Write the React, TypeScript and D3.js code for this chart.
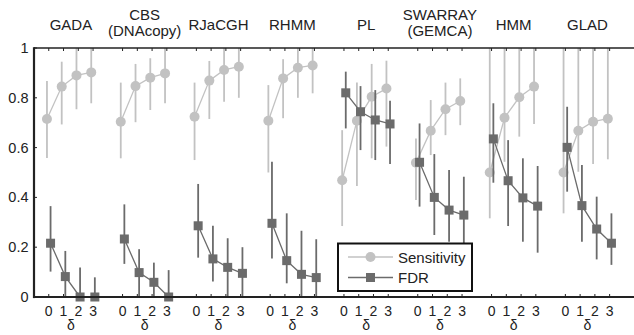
import React from "react";
import * as d3 from "d3";

const methods = ["GADA", "CBS|(DNAcopy)", "RJaCGH", "RHMM", "PL", "SWARRAY|(GEMCA)", "HMM", "GLAD"];
const deltas = [0, 1, 2, 3];
const yTicks = [0, 0.2, 0.4, 0.6, 0.8, 1];
const yTickLabels = ["0", "0.2", "0.4", "0.6", "0.8", "1"];

const sensMean = [
  [0.715, 0.845, 0.89, 0.902],
  [0.704, 0.847, 0.881, 0.898],
  [0.724, 0.869, 0.912, 0.925],
  [0.708, 0.878, 0.921, 0.93],
  [0.469, 0.708, 0.804, 0.837],
  [0.539, 0.668, 0.754, 0.787],
  [0.5, 0.72, 0.802, 0.845],
  [0.5, 0.668, 0.704, 0.716],
];
const sensLow = [
  [0.558, 0.693, 0.754, 0.778],
  [0.557, 0.702, 0.751, 0.778],
  [0.55, 0.715, 0.784, 0.8],
  [0.5, 0.718, 0.8, 0.818],
  [0.285, 0.446, 0.557, 0.604],
  [0.39, 0.57, 0.65, 0.69],
  [0.316, 0.543, 0.644, 0.695],
  [0.336, 0.503, 0.534, 0.553],
];
const sensHigh = [
  [0.867, 0.945, 1.0, 1.0],
  [0.861, 0.936, 0.959, 1.0],
  [0.861, 0.948, 1.0, 1.0],
  [0.851, 0.955, 1.0, 1.0],
  [0.67, 0.861, 0.936, 0.949],
  [0.637, 0.791, 0.861, 0.878],
  [1.0, 1.0, 1.0, 1.0],
  [1.0, 1.0, 1.0, 1.0],
];

const fdrMean = [
  [0.216, 0.082, 0, 0],
  [0.233, 0.098, 0.059, 0],
  [0.286, 0.153, 0.119, 0.095],
  [0.296, 0.146, 0.091, 0.078],
  [0.82, 0.744, 0.711, 0.695],
  [0.541, 0.4, 0.349, 0.329],
  [0.635, 0.467, 0.398, 0.365],
  [0.601, 0.367, 0.273, 0.216],
];
const fdrLow = [
  [0.102, 0, 0, 0],
  [0.133, 0, 0, 0],
  [0.158, 0.062, 0, 0],
  [0.155, 0.055, 0, 0],
  [0.677, 0.59, 0.55, 0.534],
  [0.363, 0.249, 0.222, 0.209],
  [0.459, 0.285, 0.222, 0.178],
  [0.423, 0.222, 0.151, 0.129],
];
const fdrHigh = [
  [0.365, 0.185, 0.118, 0.079],
  [0.372, 0.192, 0.138, 0.108],
  [0.454, 0.286, 0.236, 0.2],
  [0.543, 0.336, 0.266, 0.232],
  [0.905, 0.847, 0.831, 0.788],
  [0.697, 0.574, 0.51, 0.483],
  [0.778, 0.63, 0.557, 0.526],
  [0.764, 0.53, 0.403, 0.336],
];

const W = 634;
const H = 335;
const FONT = "'Liberation Sans', Arial, Helvetica, sans-serif";
const SENS_COLOR = "#c2c2c2";
const FDR_COLOR = "#6b6b6b";

export default function App() {
  const left = 34;
  const panelW = 73.8;
  const y = d3.scaleLinear().domain([0, 1]).range([297, 48]);
  const xOuter = d3.scaleBand<string>().domain(methods).range([left, left + panelW * methods.length]).padding(0);
  const xInner = d3.scalePoint<number>().domain(deltas).range([0, xOuter.bandwidth()]).padding(1);
  const off = 1.8;

  const line = d3
    .line<[number, number]>()
    .x((d) => d[0])
    .y((d) => d[1]);

  const series = [
    { mean: sensMean, low: sensLow, high: sensHigh, color: SENS_COLOR, dx: -off, shape: "circle" },
    { mean: fdrMean, low: fdrLow, high: fdrHigh, color: FDR_COLOR, dx: off, shape: "square" },
  ];

  return (
    <svg width={W} height={H} style={{ position: "absolute", left: 0, top: 0, background: "#fff" }} fontFamily={FONT}>
      {/* method titles */}
      {methods.map((m) => {
        const cx = (xOuter(m) as number) + xOuter.bandwidth() / 2;
        const parts = m.split("|");
        if (parts.length === 1)
          return (
            <text key={m} x={cx} y={29.5} textAnchor="middle" fontSize={15} fill="#222">
              {m}
            </text>
          );
        return (
          <g key={m}>
            <text x={cx} y={19.5} textAnchor="middle" fontSize={15} fill="#222">
              {parts[0]}
            </text>
            <text x={cx} y={36} textAnchor="middle" fontSize={15} fill="#222">
              {parts[1]}
            </text>
          </g>
        );
      })}

      {/* y tick labels */}
      {yTicks.map((t, i) => (
        <g key={t}>
          <text x={28.5} y={y(t) + 5} textAnchor="end" fontSize={14.5} fill="#222">
            {yTickLabels[i]}
          </text>
          <line x1={left} x2={left + 3} y1={y(t)} y2={y(t)} stroke="#222" strokeWidth={1} />
        </g>
      ))}

      {/* top/bottom ticks and x tick labels */}
      {methods.map((m) => {
        const x0 = xOuter(m) as number;
        return (
          <g key={"ax" + m}>
            {deltas.map((d) => (
              <g key={d}>
                <line x1={x0 + (xInner(d) as number)} x2={x0 + (xInner(d) as number)} y1={y(1)} y2={y(1) + 3} stroke="#222" strokeWidth={1} />
                <line x1={x0 + (xInner(d) as number)} x2={x0 + (xInner(d) as number)} y1={y(0)} y2={y(0) - 3} stroke="#222" strokeWidth={1} />
                <text x={x0 + (xInner(d) as number)} y={315.5} textAnchor="middle" fontSize={14} fill="#222">
                  {String(d)}
                </text>
              </g>
            ))}
            <text x={x0 + xOuter.bandwidth() / 2} y={329.5} textAnchor="middle" fontSize={14} fill="#222">
              δ
            </text>
          </g>
        );
      })}

      {/* series */}
      {series.map((s, si) => (
        <g key={si}>
          {methods.map((m, mi) => {
            const x0 = xOuter(m) as number;
            const pts: [number, number][] = deltas.map((d, di) => [x0 + (xInner(d) as number) + s.dx, y(s.mean[mi][di])]);
            return (
              <g key={m}>
                {deltas.map((d, di) => (
                  <line
                    key={"e" + d}
                    x1={pts[di][0]}
                    x2={pts[di][0]}
                    y1={y(s.low[mi][di])}
                    y2={y(s.high[mi][di])}
                    stroke={s.color}
                    strokeWidth={1.8}
                  />
                ))}
                <path d={line(pts) as string} fill="none" stroke={s.color} strokeWidth={1.3} />
                {pts.map((p, di) =>
                  s.shape === "circle" ? (
                    <circle key={"c" + di} cx={p[0]} cy={p[1]} r={5} fill={s.color} />
                  ) : (
                    <rect key={"r" + di} x={p[0] - 4.5} y={p[1] - 4.5} width={9} height={9} fill={s.color} />
                  )
                )}
              </g>
            );
          })}
        </g>
      ))}

      {/* axes frame */}
      <line x1={left} x2={W} y1={y(1)} y2={y(1)} stroke="#222" strokeWidth={1.6} />
      <line x1={left} x2={W} y1={y(0)} y2={y(0)} stroke="#222" strokeWidth={2.2} />
      <line x1={left} x2={left} y1={y(1) - 0.8} y2={y(0) + 1.1} stroke="#222" strokeWidth={2.2} />

      {/* legend */}
      <g>
        <rect x={338} y={243.5} width={134} height={47.5} fill="#fff" stroke="#111" strokeWidth={2} />
        <line x1={348} x2={393} y1={257} y2={257} stroke={SENS_COLOR} strokeWidth={1.3} />
        <circle cx={370.5} cy={257} r={5} fill={SENS_COLOR} />
        <text x={398} y={262.5} fontSize={15} fill="#222">
          Sensitivity
        </text>
        <line x1={348} x2={393} y1={277.5} y2={277.5} stroke={FDR_COLOR} strokeWidth={1.3} />
        <rect x={366} y={273} width={9} height={9} fill={FDR_COLOR} />
        <text x={398} y={283} fontSize={15} fill="#222">
          FDR
        </text>
      </g>
    </svg>
  );
}
